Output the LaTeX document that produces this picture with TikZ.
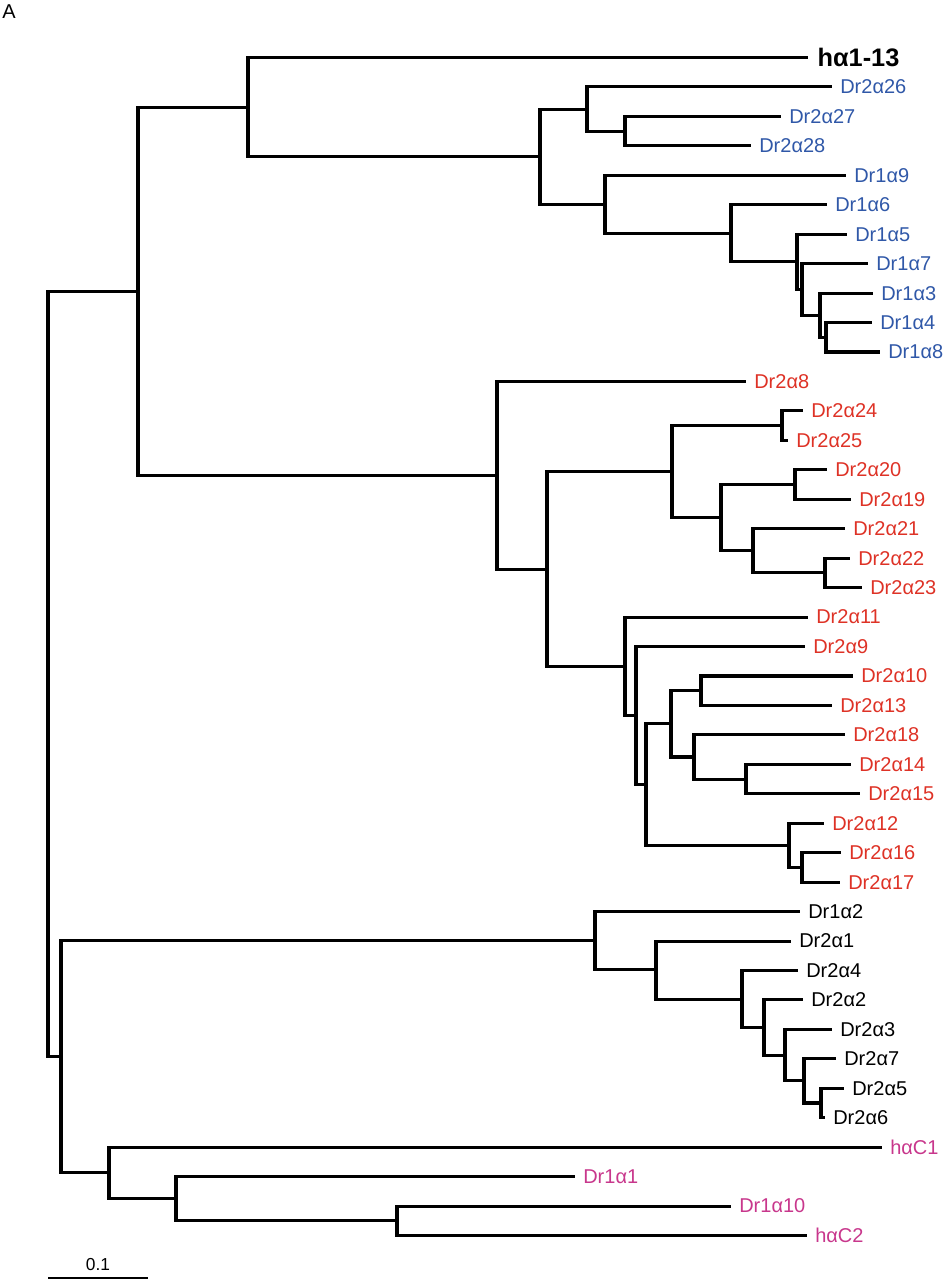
\documentclass[tikz,border=0pt]{standalone}
\usepackage{fontspec}
\setmainfont{Liberation Sans}
\definecolor{dblue}{RGB}{48,88,168}
\definecolor{dred}{RGB}{222,50,38}
\definecolor{dpink}{RGB}{200,55,140}
\tikzset{
  branch/.style={line width=2.3pt,line join=miter},
  taxon/.style={anchor=west,inner xsep=6pt,inner ysep=0pt,font=\fontsize{15}{17}\selectfont},
}
\begin{document}
\begin{tikzpicture}[x=0.75pt,y=-22.0875pt]
  \useasboundingbox (0,-1.953) rectangle (945,41.51);
  \node[font=\fontsize{15}{17}\selectfont,inner sep=0pt] (panel) at (9,-1.56) {A};

  \coordinate (ha113) at (808,0);
  \node[taxon,font=\bfseries\fontsize{19}{21}\selectfont,inner xsep=7pt] (tha113) at (ha113) {hα1-13};
  \foreach \n/\x/\r/\c/\t in {
    d2a26/832/1/dblue/Dr2α26, d2a27/781/2/dblue/Dr2α27, d2a28/751/3/dblue/Dr2α28,
    d1a9/846/4/dblue/Dr1α9, d1a6/827/5/dblue/Dr1α6, d1a5/847/6/dblue/Dr1α5,
    d1a7/868/7/dblue/Dr1α7, d1a3/873/8/dblue/Dr1α3, d1a4/872/9/dblue/Dr1α4,
    d1a8/880/10/dblue/Dr1α8,
    d2a8/746/11/dred/Dr2α8, d2a24/803/12/dred/Dr2α24, d2a25/788/13/dred/Dr2α25,
    d2a20/827/14/dred/Dr2α20, d2a19/851/15/dred/Dr2α19, d2a21/845/16/dred/Dr2α21,
    d2a22/850/17/dred/Dr2α22, d2a23/862/18/dred/Dr2α23, d2a11/808/19/dred/Dr2α11,
    d2a9/805/20/dred/Dr2α9, d2a10/853/21/dred/Dr2α10, d2a13/832/22/dred/Dr2α13,
    d2a18/845/23/dred/Dr2α18, d2a14/851/24/dred/Dr2α14, d2a15/860/25/dred/Dr2α15,
    d2a12/824/26/dred/Dr2α12, d2a16/841/27/dred/Dr2α16, d2a17/840/28/dred/Dr2α17,
    d1a2/800/29/black/Dr1α2, d2a1/791/30/black/Dr2α1, d2a4/798/31/black/Dr2α4,
    d2a2/803/32/black/Dr2α2, d2a3/832/33/black/Dr2α3, d2a7/836/34/black/Dr2α7,
    d2a5/844/35/black/Dr2α5, d2a6/825/36/black/Dr2α6,
    hac1/882/37/dpink/hαC1, d1a1/575/38/dpink/Dr1α1, d1a10/731/39/dpink/Dr1α10,
    hac2/807/40/dpink/hαC2}
  {
    \coordinate (\n) at (\x,\r);
    \node[taxon,text=\c] (t\n) at (\n) {\t};
  }

  \foreach \n/\x/\r in {
    root/48/20.93, n1/138/7.93, n2/248/1.684, n3/540/3.367, n4/587/1.75,
    n5/625/2.5, n6/605/4.984, n7/731/5.969, n8/797/6.938, n9/802/7.875,
    n10/820/8.75, n11/826/9.5,
    n13/497/14.18, n14/547/17.37, n15/672/14.06, n16/782/12.5, n17/721/15.625,
    n18/795/14.5, n19/753/16.75, n20/825/17.5, n21/625/20.67, n22/636/22.34,
    n23/646/24.69, n24/671/22.625, n25/701/21.5, n26/694/23.75, n27/746/24.5,
    n28/789/26.75, n29/802/27.5,
    m1/61/33.93, b1/595/29.99, b2/656/30.98, b3/742/31.97, b4/764/32.94,
    b5/785/33.875, b6/804/34.75, b7/821/35.5,
    p1/109/37.875, p2/176/38.75, p3/397/39.5}
    \coordinate (\n) at (\x,\r);

  \foreach \p/\c in {
    root/n1, root/m1, n1/n2, n1/n13,
    n2/ha113, n2/n3, n3/n4, n3/n6, n4/d2a26, n4/n5, n5/d2a27, n5/d2a28,
    n6/d1a9, n6/n7, n7/d1a6, n7/n8, n8/d1a5, n8/n9, n9/d1a7, n9/n10,
    n10/d1a3, n10/n11, n11/d1a4, n11/d1a8,
    n13/d2a8, n13/n14, n14/n15, n14/n21, n15/n16, n15/n17, n16/d2a24, n16/d2a25,
    n17/n18, n17/n19, n18/d2a20, n18/d2a19, n19/d2a21, n19/n20, n20/d2a22, n20/d2a23,
    n21/d2a11, n21/n22, n22/d2a9, n22/n23, n23/n24, n23/n28, n24/n25, n24/n26,
    n25/d2a10, n25/d2a13, n26/d2a18, n26/n27, n27/d2a14, n27/d2a15,
    n28/d2a12, n28/n29, n29/d2a16, n29/d2a17,
    m1/b1, m1/p1, b1/d1a2, b1/b2, b2/d2a1, b2/b3, b3/d2a4, b3/b4, b4/d2a2, b4/b5,
    b5/d2a3, b5/b6, b6/d2a7, b6/b7, b7/d2a5, b7/d2a6,
    p1/hac1, p1/p2, p2/d1a1, p2/p3, p3/d1a10, p3/hac2}
    \draw[branch] (\p) |- (\c);

  \coordinate (bar1) at (48,41.44);
  \coordinate (bar2) at (148,41.44);
  \draw[line width=1.3pt] (bar1) -- (bar2) node[midway,above=5pt,font=\fontsize{13}{15}\selectfont,inner sep=0pt] (barlabel) {0.1};
\end{tikzpicture}
\end{document}
